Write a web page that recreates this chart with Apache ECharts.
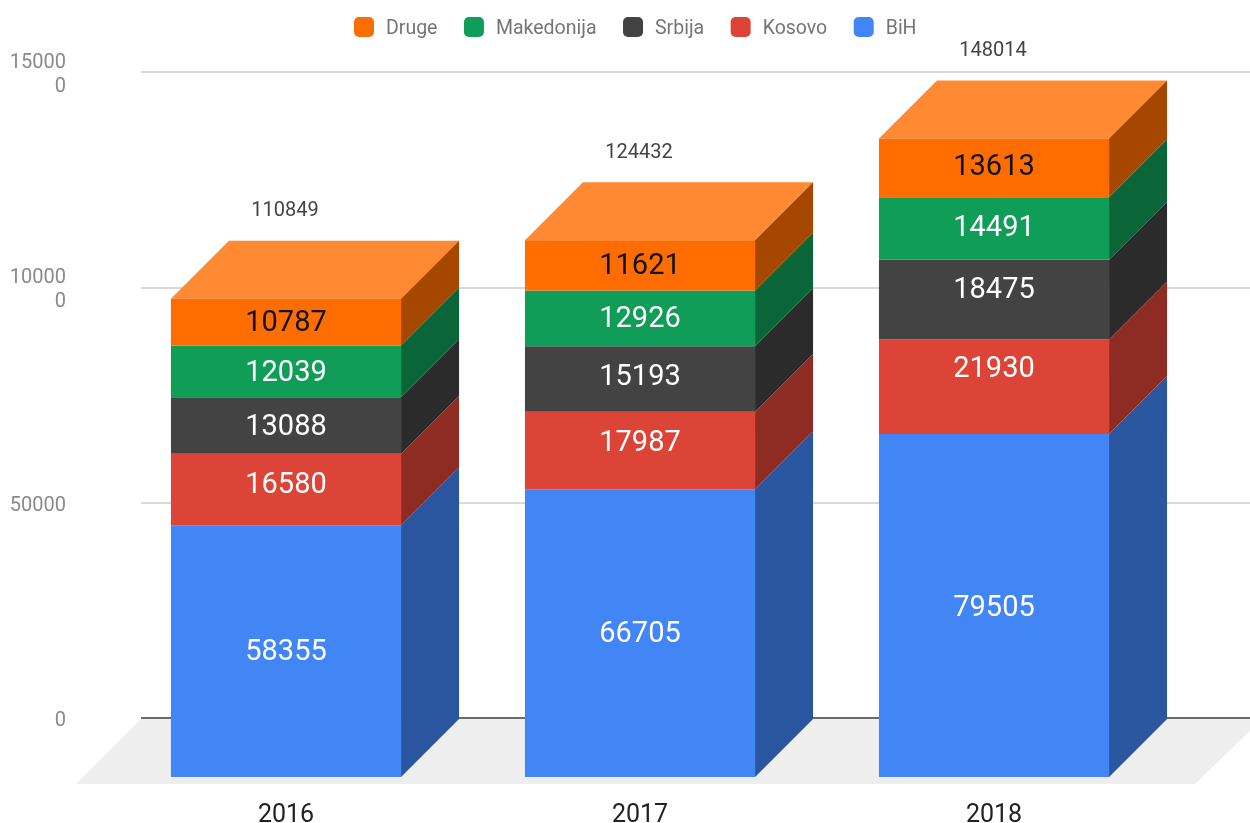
<!DOCTYPE html>
<html>
<head>
<meta charset="utf-8">
<style>
  html, body { margin: 0; padding: 0; background: #fff; }
  #chart { width: 1250px; height: 823px; }
</style>
<script src="https://cdn.jsdelivr.net/npm/echarts@6/dist/echarts.min.js"></script>
</head>
<body>
<div id="chart"></div>
<script>
const years = ['2016', '2017', '2018'];
const bih = [58355, 66705, 79505];
const kosovo = [16580, 17987, 21930];
const srbija = [13088, 15193, 18475];
const makedonija = [12039, 12926, 14491];
const druge = [10787, 11621, 13613];
const totals = [110849, 124432, 148014];
const legendOrder = ['Druge', 'Makedonija', 'Srbija', 'Kosovo', 'BiH'];
const yTicks = { 0: '0', 50000: '50000', 100000: '10000\n0', 150000: '15000\n0' };

// pomak prednje strane prema zadnjem zidu (px)
const DEPTH = 58;
const BAR_RATIO = 0.65;

// nudge je pomak natpisa od sredine segmenta (px), po godini
const stackDefs = [
  { name: 'BiH', values: bih, front: '#4285f4', side: '#2a56a0', text: '#ffffff', nudge: [2, 2, 3] },
  { name: 'Kosovo', values: kosovo, front: '#db4437', side: '#8e2c24', text: '#ffffff', nudge: [-4, -7, -17] },
  { name: 'Srbija', values: srbija, front: '#434343', side: '#2b2b2b', text: '#ffffff', nudge: [2, -1, -9] },
  { name: 'Makedonija', values: makedonija, front: '#0f9d58', side: '#0a6639', text: '#ffffff', nudge: [2, 1, 0] },
  { name: 'Druge', values: druge, front: '#ff6d00', side: '#a64700', top: '#ff8a33', text: '#111111', nudge: [2, 1, 0] }
];

// zbroj svih serija ispod zadane
function baseOf(idx, cat) {
  let sum = 0;
  for (let i = 0; i < idx; i++) sum += stackDefs[i].values[cat];
  return sum;
}

function stackSeries(def, idx) {
  return {
    name: def.name,
    type: 'custom',
    xAxisIndex: 1,
    yAxisIndex: 1,
    z: 5 + idx,
    clip: false,
    itemStyle: { color: def.front },
    encode: { x: 0, y: 2 },
    data: years.map((y, i) => [i, baseOf(idx, i), baseOf(idx, i) + def.values[i], def.values[i]]),
    renderItem(params, api) {
      const bottom = api.coord([api.value(0), api.value(1)]);
      const top = api.coord([api.value(0), api.value(2)]);
      const w = api.size([1, 0])[0] * BAR_RATIO;
      const x0 = bottom[0] - w / 2;
      const x1 = bottom[0] + w / 2;
      const children = [
        {
          type: 'polygon',
          shape: { points: [[x1, top[1]], [x1 + DEPTH, top[1] - DEPTH], [x1 + DEPTH, bottom[1] - DEPTH], [x1, bottom[1]]] },
          style: { fill: def.side }
        },
        {
          type: 'rect',
          shape: { x: x0, y: top[1], width: w, height: bottom[1] - top[1] },
          style: { fill: def.front }
        },
        {
          type: 'text',
          style: {
            x: bottom[0],
            y: (top[1] + bottom[1]) / 2 + def.nudge[params.dataIndex],
            text: String(api.value(3)),
            fill: def.text,
            font: '29px Roboto',
            align: 'center',
            verticalAlign: 'middle'
          }
        }
      ];
      if (def.top) {
        children.unshift({
          type: 'polygon',
          shape: { points: [[x0, top[1]], [x0 + DEPTH, top[1] - DEPTH], [x1 + DEPTH, top[1] - DEPTH], [x1, top[1]]] },
          style: { fill: def.top }
        });
      }
      return { type: 'group', children };
    }
  };
}

const series = stackDefs.map(stackSeries);

// ukupne vrijednosti iznad stupaca
series.push({
  name: 'Ukupno',
  type: 'custom',
  xAxisIndex: 1,
  yAxisIndex: 1,
  z: 12,
  clip: false,
  encode: { x: 0, y: 1 },
  data: totals.map((t, i) => [i, t]),
  renderItem(params, api) {
    const p = api.coord([api.value(0), api.value(1)]);
    return {
      type: 'text',
      style: {
        x: p[0] - 1,
        y: p[1] - 87.5,
        text: String(api.value(1)),
        fill: '#444444',
        font: '20px Roboto',
        align: 'center',
        verticalAlign: 'middle'
      }
    };
  }
});

const chart = echarts.init(document.getElementById('chart'), null, { renderer: 'canvas' });
chart.setOption({
  animation: false,
  backgroundColor: '#ffffff',
  textStyle: { fontFamily: 'Roboto' },
  legend: {
    data: legendOrder,
    left: 354,
    top: 17,
    padding: 0,
    itemWidth: 20,
    itemHeight: 20,
    itemGap: 26.5,
    icon: 'roundRect',
    formatter: '{a|{name}}',
    textStyle: {
      color: '#757575',
      fontSize: 19.5,
      fontFamily: 'Roboto',
      padding: [0, 0, 0, 7],
      rich: { a: { color: '#757575', fontSize: 19.5, fontFamily: 'Roboto', padding: [4, 0, 0, 0] } }
    }
  },
  graphic: [{
    type: 'polygon',
    z: 0,
    silent: true,
    shape: { points: [[141, 719], [1262, 719], [1195, 784], [76, 784]] },
    style: { fill: '#eeeeee' }
  }],
  // zadnji zid s mrežom, prednja ravnina sa stupcima, treća mreža samo za natpise osi
  grid: [
    { left: 141, right: 0, top: 72, bottom: 105, outerBoundsMode: 'none' },
    { left: 109, width: 1062, top: 130, bottom: 46, outerBoundsMode: 'none' },
    { left: 141, right: 0, top: 75, bottom: 102, outerBoundsMode: 'none' }
  ],
  xAxis: [
    { gridIndex: 0, type: 'category', data: years, show: false },
    {
      gridIndex: 1,
      type: 'category',
      data: years,
      axisLine: { show: false },
      axisTick: { show: false },
      axisLabel: { color: '#222222', fontSize: 25, fontFamily: 'Roboto', margin: 26 }
    },
    { gridIndex: 2, type: 'category', data: years, show: false }
  ],
  yAxis: [
    {
      gridIndex: 0,
      type: 'value',
      min: 0,
      max: 150000,
      interval: 50000,
      z: 2,
      axisLine: { show: false },
      axisTick: { show: false },
      axisLabel: { show: false },
      splitLine: { lineStyle: { color: '#cccccc', width: 1.5 } }
    },
    { gridIndex: 1, type: 'value', min: 0, max: 150000, show: false },
    {
      gridIndex: 2,
      type: 'value',
      min: 0,
      max: 150000,
      interval: 50000,
      axisLine: { show: false },
      axisTick: { show: false },
      splitLine: { show: false },
      axisLabel: {
        color: '#8a8a8a',
        fontSize: 20,
        lineHeight: 24,
        fontFamily: 'Roboto',
        margin: 75,
        align: 'right',
        formatter: v => yTicks[v]
      }
    }
  ],
  series: series.concat([{
    // nulta linija zadnjeg zida
    type: 'line',
    xAxisIndex: 0,
    yAxisIndex: 0,
    data: [],
    silent: true,
    z: 3,
    markLine: {
      silent: true,
      symbol: 'none',
      label: { show: false },
      lineStyle: { color: '#6b6b6b', width: 2, type: 'solid' },
      data: [{ yAxis: 0 }]
    }
  }])
});
</script>
</body>
</html>
